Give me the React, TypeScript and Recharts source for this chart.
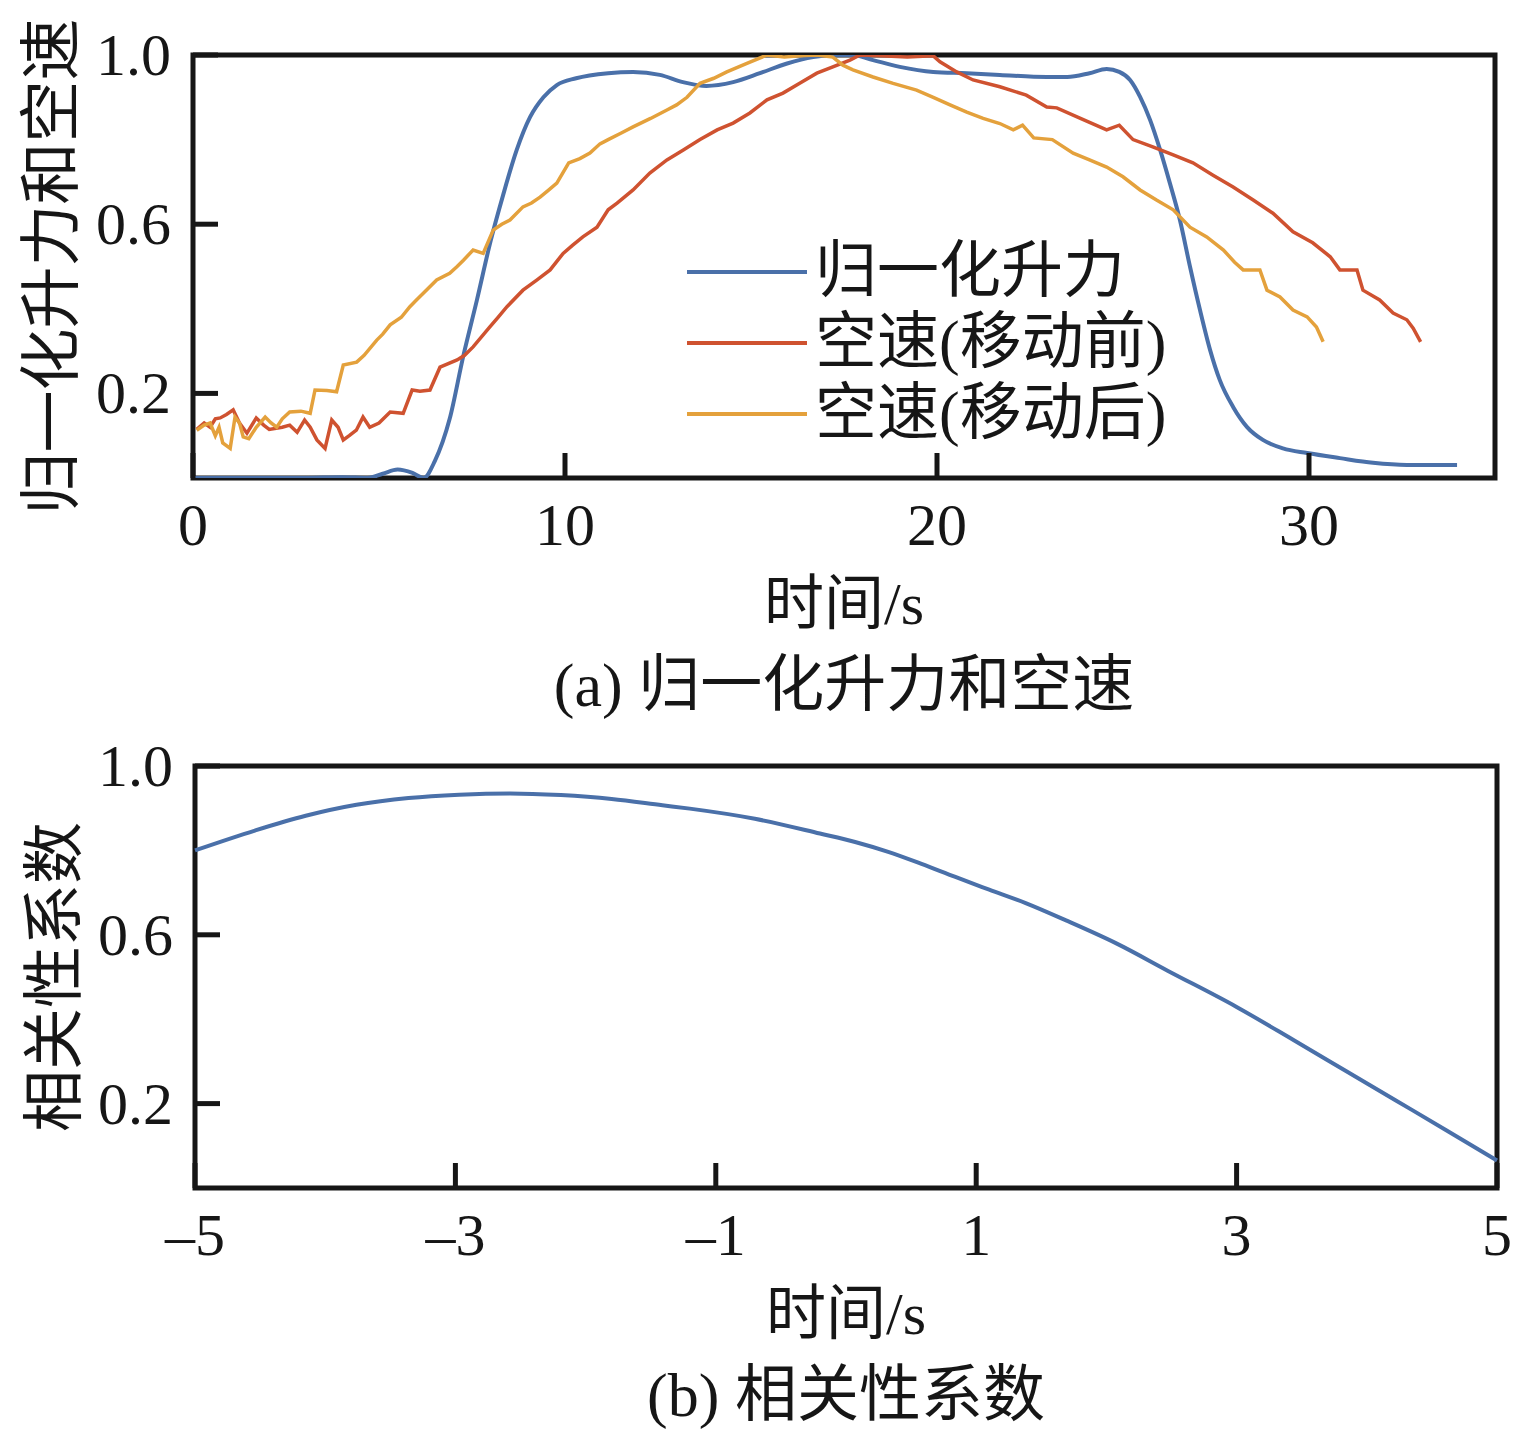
import React from 'react';
import { LineChart, Line, XAxis, YAxis, ReferenceArea, Legend, Label } from 'recharts';

const FONT = '"Liberation Serif", "Noto Sans CJK SC", serif';
const BLUE = '#4a70a9';
const RED = '#cf5230';
const ORANGE = '#e4a13c';
const BLACK = '#161616';

// ---------- tick values ----------
const topXTicks = [0, 10, 20, 30];
const topYTicks = [0.2, 0.6, 1.0];
const bottomXTicks = [-5, -3, -1, 1, 3, 5];
const bottomYTicks = [0.2, 0.6, 1.0];

// ---------- labels ----------
const seriesNames = ['归一化升力', '空速(移动前)', '空速(移动后)'];
const topYLabel = '归一化升力和空速';
const bottomYLabel = '相关性系数';
const xLabel = '时间/s';
const topCaption = '(a) 归一化升力和空速';
const bottomCaption = '(b) 相关性系数';

// ---------- series: [time (s), value] ----------
const liftPoints: [number, number][] = [
  [0, 0.0], [1, 0.0], [2, 0.0], [3, 0.0], [4, 0.002], [4.7, 0.0], [5.1, 0.01], [5.5, 0.02],
  [5.9, 0.012], [6.2, 0.0], [6.5, 0.04], [6.9, 0.14], [7.27, 0.29], [7.63, 0.42], [8.0, 0.56],
  [8.34, 0.67], [8.7, 0.775], [9.06, 0.853], [9.42, 0.9], [9.78, 0.929], [10.3, 0.945],
  [11.16, 0.957], [11.83, 0.96], [12.55, 0.953], [13.17, 0.936], [13.8, 0.927], [14.52, 0.936],
  [15.24, 0.957], [15.97, 0.98], [16.67, 0.995], [17.2, 1.0], [17.74, 1.0], [18.28, 0.988],
  [19.0, 0.972], [19.9, 0.96], [20.8, 0.957], [21.69, 0.953], [22.95, 0.948], [23.5, 0.948],
  [24.1, 0.957], [24.56, 0.967], [24.9, 0.96], [25.19, 0.941], [25.46, 0.901], [25.73, 0.846],
  [26.0, 0.775], [26.26, 0.697], [26.53, 0.61], [26.8, 0.5], [27.07, 0.397], [27.34, 0.303],
  [27.6, 0.232], [27.96, 0.168], [28.33, 0.121], [28.76, 0.09], [29.3, 0.07], [29.95, 0.059],
  [30.83, 0.047], [31.72, 0.036], [32.63, 0.031], [33.98, 0.031],
];

const airspeedBeforePoints: [number, number][] = [
  [0.1, 0.115], [0.3, 0.13], [0.46, 0.12], [0.6, 0.14], [0.73, 0.142], [0.9, 0.15], [1.08, 0.161],
  [1.25, 0.13], [1.45, 0.106], [1.7, 0.142], [1.9, 0.125], [2.05, 0.115], [2.4, 0.12], [2.6, 0.125],
  [2.8, 0.108], [3.0, 0.137], [3.15, 0.12], [3.33, 0.09], [3.55, 0.07], [3.73, 0.137], [3.9, 0.12],
  [4.04, 0.09], [4.2, 0.1], [4.39, 0.113], [4.57, 0.144], [4.75, 0.12], [5.0, 0.13], [5.3, 0.156],
  [5.65, 0.153], [5.89, 0.208], [6.1, 0.205], [6.37, 0.208], [6.64, 0.262], [7.1, 0.279],
  [7.3, 0.29], [7.53, 0.31], [7.98, 0.357], [8.2, 0.38], [8.44, 0.405], [8.87, 0.444],
  [9.24, 0.468], [9.6, 0.492], [9.95, 0.531], [10.2, 0.55], [10.48, 0.57], [10.86, 0.593],
  [11.16, 0.634], [11.4, 0.65], [11.83, 0.681], [12.28, 0.721], [12.74, 0.752], [13.17, 0.775],
  [13.63, 0.8], [14.09, 0.823], [14.52, 0.839], [14.97, 0.863], [15.43, 0.894], [15.86, 0.91],
  [16.32, 0.934], [16.77, 0.957], [17.2, 0.972], [17.66, 0.988], [17.93, 1.0], [18.5, 0.998],
  [19.2, 0.995], [19.9, 0.998], [20.08, 0.984], [20.53, 0.96], [20.97, 0.941], [21.69, 0.925],
  [22.4, 0.905], [22.95, 0.877], [23.22, 0.875], [23.84, 0.851], [24.56, 0.823], [24.9, 0.834],
  [25.27, 0.8], [25.8, 0.783], [26.35, 0.764], [26.88, 0.745], [27.42, 0.716], [27.96, 0.688],
  [28.5, 0.657], [29.03, 0.626], [29.57, 0.582], [30.1, 0.556], [30.57, 0.523], [30.83, 0.492],
  [31.29, 0.492], [31.45, 0.444], [31.9, 0.421], [32.26, 0.39], [32.63, 0.374], [32.8, 0.354],
  [33.0, 0.322],
];

const airspeedAfterPoints: [number, number][] = [
  [0.1, 0.113], [0.3, 0.125], [0.46, 0.13], [0.6, 0.1], [0.7, 0.12], [0.8, 0.083], [1.0, 0.07],
  [1.13, 0.144], [1.25, 0.13], [1.35, 0.097], [1.5, 0.093], [1.7, 0.12], [1.94, 0.144],
  [2.1, 0.13], [2.25, 0.12], [2.4, 0.14], [2.6, 0.156], [2.9, 0.158], [3.15, 0.153], [3.28, 0.208],
  [3.6, 0.207], [3.86, 0.204], [4.04, 0.267], [4.4, 0.274], [4.6, 0.29], [4.94, 0.326], [5.1, 0.34],
  [5.3, 0.362], [5.6, 0.38], [5.83, 0.405], [6.0, 0.42], [6.19, 0.437], [6.55, 0.468], [6.9, 0.484],
  [7.1, 0.5], [7.27, 0.515], [7.53, 0.539], [7.8, 0.531], [8.07, 0.586], [8.3, 0.6], [8.52, 0.61],
  [8.87, 0.641], [9.1, 0.65], [9.33, 0.664], [9.55, 0.68], [9.78, 0.697], [10.1, 0.745],
  [10.4, 0.755], [10.67, 0.768], [10.94, 0.79], [11.16, 0.8], [11.5, 0.815], [11.83, 0.83],
  [12.3, 0.85], [12.74, 0.87], [13.0, 0.882], [13.28, 0.9], [13.63, 0.933], [14.0, 0.945],
  [14.35, 0.96], [14.89, 0.98], [15.43, 1.0], [15.9, 0.995], [16.3, 0.998], [16.77, 1.0],
  [17.2, 0.995], [17.47, 0.976], [17.74, 0.965], [18.28, 0.948], [18.82, 0.933], [19.45, 0.917],
  [19.9, 0.9], [20.35, 0.882], [20.8, 0.865], [21.24, 0.85], [21.69, 0.838], [22.05, 0.823],
  [22.3, 0.834], [22.6, 0.804], [23.1, 0.8], [23.66, 0.768], [24.1, 0.752], [24.56, 0.735],
  [25.0, 0.712], [25.46, 0.681], [25.9, 0.657], [26.35, 0.634], [26.8, 0.593], [27.25, 0.57],
  [27.7, 0.539], [28.0, 0.51], [28.23, 0.492], [28.68, 0.492], [28.87, 0.444], [29.22, 0.428],
  [29.57, 0.397], [29.95, 0.381], [30.2, 0.357], [30.38, 0.322],
];

const correlationPoints: [number, number][] = [
  [-5, 0.8], [-4.54, 0.847], [-4.15, 0.882], [-3.76, 0.908], [-3.36, 0.924], [-2.97, 0.932],
  [-2.58, 0.935], [-2.19, 0.931], [-1.8, 0.922], [-1.41, 0.907], [-1.2, 0.899], [-0.7, 0.875],
  [-0.2, 0.84], [0.07, 0.82], [0.33, 0.796], [0.58, 0.768], [0.84, 0.737], [1.1, 0.707],
  [1.38, 0.675], [1.69, 0.634], [2.08, 0.579], [2.47, 0.515], [3.0, 0.429], [3.44, 0.35],
  [3.83, 0.279], [4.22, 0.208], [4.61, 0.137], [5.0, 0.065],
];

const toRows = (pts: [number, number][]) => pts.map(([t, v]) => ({ t, v }));
const liftData = toRows(liftPoints);
const beforeData = toRows(airspeedBeforePoints);
const afterData = toRows(airspeedAfterPoints);
const corrData = toRows(correlationPoints);

const seriesColors = [BLUE, RED, ORANGE];

// ---------- custom ticks (inward tick marks, outside labels) ----------
const TICK_LEN = 25;
const Y_MARGIN = 22;
const FS = 60;

const YTick = (props: any) => {
  const { x, y, payload } = props;
  const axisX = x + Y_MARGIN;
  return (
    <g>
      <line x1={axisX} x2={axisX + TICK_LEN} y1={y} y2={y} stroke={BLACK} strokeWidth={5} />
      <text x={x} y={y} textAnchor="end" dominantBaseline="central" fontSize={FS} fontFamily={FONT} fill={BLACK}>
        {Number(payload.value).toFixed(1)}
      </text>
    </g>
  );
};

const XTick = (props: any) => {
  const { x, y, payload } = props;
  const v = Number(payload.value);
  const txt = v < 0 ? '\u2013' + Math.abs(v) : String(v);
  return (
    <g>
      <line x1={x} x2={x} y1={y} y2={y - TICK_LEN} stroke={BLACK} strokeWidth={5} />
      <text x={x} y={y + 47} textAnchor="middle" dominantBaseline="central" fontSize={FS} fontFamily={FONT} fill={BLACK}>
        {txt}
      </text>
    </g>
  );
};

const makeXLabel = (caption: string) => (props: any) => {
  const vb = props.viewBox || {};
  const cx = vb.x + vb.width / 2;
  return (
    <g>
      <text x={cx} y={vb.y + 126} textAnchor="middle" dominantBaseline="central" fontSize={FS} fontFamily={FONT} fill={BLACK}>
        {xLabel}
      </text>
      <text x={cx} y={vb.y + 207} textAnchor="middle" dominantBaseline="central" fontSize={FS + 2} fontFamily={FONT} fill={BLACK}>
        {caption}
      </text>
    </g>
  );
};

const makeYLabel = (text: string, cxLabel: number) => (props: any) => {
  const vb = props.viewBox || {};
  const cy = vb.y + vb.height / 2;
  return (
    <text
      x={cxLabel}
      y={cy}
      textAnchor="middle"
      dominantBaseline="central"
      fontSize={FS + 2}
      fontFamily={FONT}
      fill={BLACK}
      transform={`rotate(-90, ${cxLabel}, ${cy})`}
    >
      {text}
    </text>
  );
};

const renderLegend = () => (
  <div style={{ fontFamily: FONT, fontSize: FS + 2, color: BLACK }}>
    {seriesNames.map((name, i) => (
      <div key={name} style={{ display: 'flex', alignItems: 'center', height: 71, whiteSpace: 'nowrap' }}>
        <svg width={120} height={10} style={{ display: 'block' }}>
          <line x1={0} x2={120} y1={5} y2={5} stroke={seriesColors[i]} strokeWidth={4} />
        </svg>
        <span style={{ marginLeft: 8, lineHeight: '71px' }}>{name}</span>
      </div>
    ))}
  </div>
);

export default function App() {
  return (
    <div style={{ position: 'absolute', left: 0, top: 0, width: 1535, height: 1443, background: '#fff' }}>
      <div style={{ position: 'absolute', left: 0, top: 0 }}>
        <LineChart width={1535} height={745} margin={{ top: 55, right: 40, left: 0, bottom: 0 }}>
          <XAxis
            type="number"
            dataKey="t"
            domain={[0, 35]}
            ticks={topXTicks}
            interval={0}
            height={267}
            axisLine={false}
            tickLine={false}
            tickSize={0}
            tickMargin={0}
            tick={<XTick />}
          >
            <Label content={makeXLabel(topCaption)} />
          </XAxis>
          <YAxis
            type="number"
            domain={[0, 1]}
            allowDataOverflow
            ticks={topYTicks}
            interval={0}
            width={193}
            axisLine={false}
            tickLine={false}
            tickSize={0}
            tickMargin={Y_MARGIN}
            tick={<YTick />}
          >
            <Label content={makeYLabel(topYLabel, 52)} />
          </YAxis>
          <Line data={liftData} dataKey="v" name={seriesNames[0]} type="monotone" stroke={BLUE} strokeWidth={4} dot={false} isAnimationActive={false} />
          <Line data={beforeData} dataKey="v" name={seriesNames[1]} type="linear" stroke={RED} strokeWidth={3.5} dot={false} isAnimationActive={false} />
          <Line data={afterData} dataKey="v" name={seriesNames[2]} type="linear" stroke={ORANGE} strokeWidth={3.5} dot={false} isAnimationActive={false} />
          <ReferenceArea x1={0} x2={35} y1={0} y2={1} fill="none" fillOpacity={0} stroke={BLACK} strokeWidth={5} />
          <Legend
            layout="vertical"
            align="center"
            verticalAlign="middle"
            content={renderLegend}
            wrapperStyle={{ position: 'absolute', left: 687, top: 236, width: 'auto', height: 'auto' }}
          />
        </LineChart>
      </div>
      <div style={{ position: 'absolute', left: 0, top: 711 }}>
        <LineChart width={1535} height={732} margin={{ top: 55, right: 38, left: 0, bottom: 0 }}>
          <XAxis
            type="number"
            dataKey="t"
            domain={[-5, 5]}
            ticks={bottomXTicks}
            interval={0}
            height={255}
            axisLine={false}
            tickLine={false}
            tickSize={0}
            tickMargin={0}
            tick={<XTick />}
          >
            <Label content={makeXLabel(bottomCaption)} />
          </XAxis>
          <YAxis
            type="number"
            domain={[0, 1]}
            allowDataOverflow
            ticks={bottomYTicks}
            interval={0}
            width={195}
            axisLine={false}
            tickLine={false}
            tickSize={0}
            tickMargin={Y_MARGIN}
            tick={<YTick />}
          >
            <Label content={makeYLabel(bottomYLabel, 55)} />
          </YAxis>
          <Line data={corrData} dataKey="v" type="monotone" stroke={BLUE} strokeWidth={4} dot={false} isAnimationActive={false} />
          <ReferenceArea x1={-5} x2={5} y1={0} y2={1} fill="none" fillOpacity={0} stroke={BLACK} strokeWidth={5} />
        </LineChart>
      </div>
    </div>
  );
}
